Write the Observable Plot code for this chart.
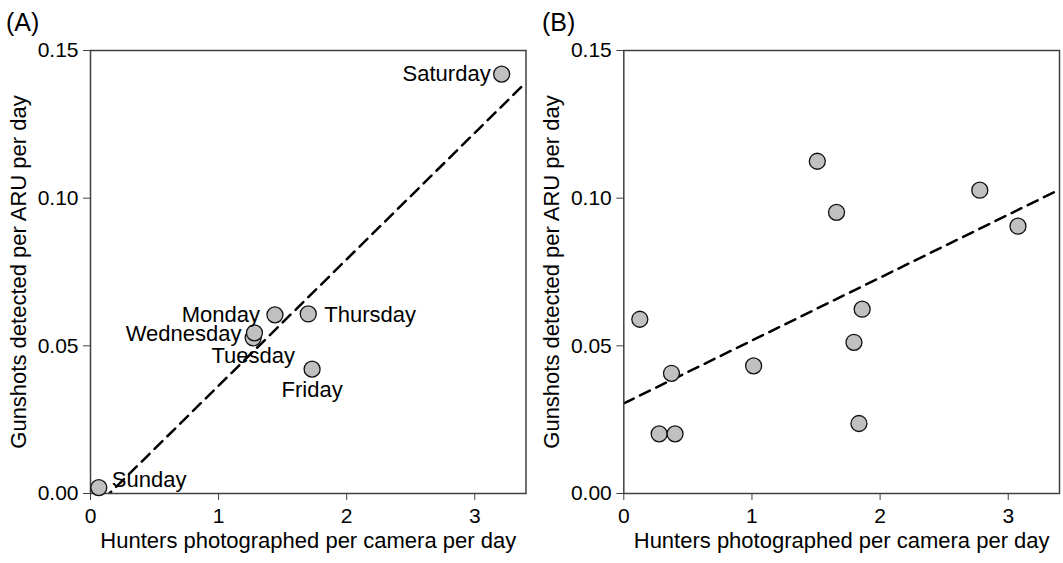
<!DOCTYPE html>
<html><head><meta charset="utf-8">
<script src="https://cdn.jsdelivr.net/npm/d3@7"></script>
<script src="https://cdn.jsdelivr.net/npm/@observablehq/plot@0.6"></script>
<style>
body{margin:0;background:#fff;font-family:"Liberation Sans",Arial,sans-serif;}
#wrap{position:relative;width:1063px;height:563px;overflow:hidden;}
.panel{position:absolute;top:0;}
.tag{position:absolute;top:10px;font-size:25px;line-height:1;color:#000;}
</style></head><body>
<div id="wrap"></div>
<script>
// ---- data ----
const days = ["Sunday","Monday","Tuesday","Wednesday","Thursday","Friday","Saturday"];
const huntersA = [0.065, 1.44, 1.27, 1.28, 1.70, 1.73, 3.21];
const gunshotsA = [0.002, 0.0605, 0.0527, 0.0544, 0.0608, 0.0421, 0.142];
const huntersB = [0.125, 0.372, 0.276, 0.40, 1.013, 1.51, 1.66, 1.86, 1.796, 1.835, 2.778, 3.076];
const gunshotsB = [0.059, 0.0407, 0.0202, 0.0202, 0.0432, 0.1125, 0.0952, 0.0624, 0.0512, 0.0237, 0.1027, 0.0905];
const fitA = {intercept: -0.0063, slope: 0.0428};
const fitB = {intercept: 0.0305, slope: 0.0213};
const xTicks = [0, 1, 2, 3];
const yTicks = [0, 0.05, 0.10, 0.15];
const xDomain = [0, 3.4];
const yDomain = [0, 0.15];
const xLabel = "Hunters photographed per camera per day";
const yLabel = "Gunshots detected per ARU per day";
const panelTags = ["(A)", "(B)"];

// label placement (style, not data)
const place = {
  Sunday:    {dx: 13, dy: -8, anchor: "start"},
  Monday:    {dx: -15, dy: 0, anchor: "end"},
  Tuesday:   {dx: 0, dy: 18, anchor: "middle"},
  Wednesday: {dx: -13, dy: 1, anchor: "end"},
  Thursday:  {dx: 16, dy: 1, anchor: "start"},
  Friday:    {dx: 0, dy: 21, anchor: "middle"},
  Saturday:  {dx: -11, dy: 0, anchor: "end"}
};

const dataA = days.map((d, i) => ({day: d, x: huntersA[i], y: gunshotsA[i]}));
const dataB = huntersB.map((h, i) => ({x: h, y: gunshotsB[i]}));
const fitLine = f => xDomain.map(x => ({x, y: f.intercept + f.slope * x}));

function panel(data, fit, labels, width, marginLeft, marginRight) {
  const marks = [
    Plot.line(fitLine(fit), {x: "x", y: "y", stroke: "black", strokeWidth: 2.5, strokeDasharray: "11,7", clip: true}),
    Plot.axisX({ticks: xTicks, tickSize: 7, tickPadding: 8, tickFormat: "d", stroke: "#404040", label: null, fontSize: 21}),
    Plot.axisY({ticks: yTicks, tickSize: 7, tickPadding: 5, tickFormat: ".2f", stroke: "#404040", label: null, fontSize: 21}),
    Plot.frame({stroke: "#404040", strokeWidth: 1.5}),
    Plot.dot(data, {x: "x", y: "y", r: 8, fill: "#c0c0c0", stroke: "#111", strokeWidth: 1.3}),
    Plot.text([xLabel], {frameAnchor: "bottom", dy: 54, fontSize: 22, fill: "black"}),
    Plot.text([yLabel], {frameAnchor: "left", rotate: -90, dx: -72, textAnchor: "middle", fontSize: 22, fill: "black"})
  ];
  if (labels) {
    for (const d of data) {
      const p = place[d.day];
      marks.push(Plot.text([d], {x: "x", y: "y", text: "day", textAnchor: p.anchor,
        dx: p.dx, dy: p.dy, fontSize: 22, fill: "black"}));
    }
  }
  return Plot.plot({
    width, height: 563,
    marginLeft, marginRight, marginTop: 50, marginBottom: 70,
    style: {fontFamily: "'Liberation Sans', Arial, sans-serif", fontSize: "22px", color: "black", background: "transparent"},
    x: {domain: xDomain},
    y: {domain: yDomain},
    marks
  });
}

const wrap = document.getElementById("wrap");
const pA = panel(dataA, fitA, true, 540, 90, 14.5);
pA.classList.add("panel"); pA.style.left = "0px";
wrap.appendChild(pA);
const pB = panel(dataB, fitB, false, 530, 90.3, 4);
pB.classList.add("panel"); pB.style.left = "533px";
wrap.appendChild(pB);

panelTags.forEach((t, i) => {
  const el = document.createElement("div");
  el.className = "tag";
  el.textContent = t;
  el.style.left = (i === 0 ? 6 : 542) + "px";
  wrap.appendChild(el);
});
</script>
</body></html>
